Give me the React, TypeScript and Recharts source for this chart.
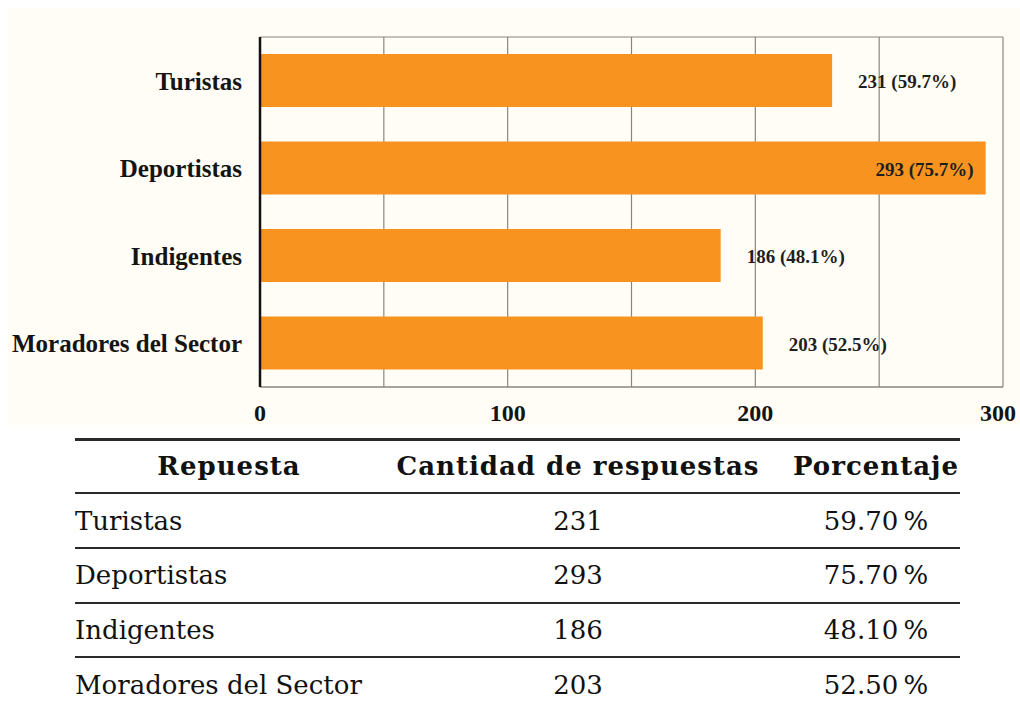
import React from 'react';
import { BarChart, Bar, XAxis, YAxis, CartesianGrid, LabelList } from 'recharts';

// Survey results: who uses the area
const categories = ['Turistas', 'Deportistas', 'Indigentes', 'Moradores del Sector'];
const counts = [231, 293, 186, 203];
const percents = [59.7, 75.7, 48.1, 52.5];
const xTicks = [0, 50, 100, 150, 200, 250, 300];
const tableHeaders = ['Repuesta', 'Cantidad de respuestas', 'Porcentaje'];

const data = categories.map((name, i) => ({ name, count: counts[i], pct: percents[i] }));

const CHART_W = 1012;
const CHART_H = 417;
const CHART_FONT = '"Liberation Serif", "Times New Roman", serif';
const TABLE_FONT = '"DejaVu Serif", serif';
const LABEL_SIZE = 19;
const LABEL_GAP = 26;
const TICK_SIZE = 24;

// Value label placed after the bar end; falls back to inside the bar when it would overflow.
const BarValueLabel = (props: any) => {
  const { x, y, width, height, index } = props;
  const text = `${counts[index]} (${percents[index].toFixed(1)}%)`;
  const approxW = text.length * LABEL_SIZE * 0.48;
  const end = Number(x) + Number(width);
  const fits = end + LABEL_GAP + approxW <= CHART_W;
  return (
    <text
      x={fits ? end + LABEL_GAP : end - 12}
      y={Number(y) + Number(height) / 2 + 1}
      textAnchor={fits ? 'start' : 'end'}
      dominantBaseline="central"
      fontFamily={CHART_FONT}
      fontWeight="bold"
      fontSize={LABEL_SIZE}
      fill="#1e1e1e"
    >
      {text}
    </text>
  );
};

// X tick that only shows the hundreds and keeps the text inside the chart box.
const XTick = (props: any) => {
  const { x, y, payload } = props;
  const v = payload?.value;
  if (v % 100 !== 0) return null;
  const label = String(v);
  const half = (label.length * TICK_SIZE * 0.5) / 2;
  const cx = Math.min(Number(x), CHART_W - half - 4);
  return (
    <text
      x={cx}
      y={Number(y) + 34}
      textAnchor="middle"
      fontFamily={CHART_FONT}
      fontWeight="bold"
      fontSize={TICK_SIZE}
      fill="#141414"
    >
      {label}
    </text>
  );
};

const ROW_CENTERS = [458, 513, 567, 622, 677];
const RULES = [
  { y: 430, h: 3 },
  { y: 484, h: 2 },
  { y: 539, h: 2 },
  { y: 594, h: 2 },
  { y: 648, h: 2 },
];

const cellStyle = (center: number, align: 'left' | 'center', x: number, w: number): React.CSSProperties => ({
  position: 'absolute',
  top: center - 18,
  height: 36,
  lineHeight: '36px',
  left: x,
  width: w,
  textAlign: align,
  whiteSpace: 'nowrap',
});

export default function App() {
  const rows = categories.map((c, i) => [c, String(counts[i]), `${percents[i].toFixed(2)}\u2009%`]);
  const headerStyle: React.CSSProperties = { fontWeight: 'bold', letterSpacing: 1 };
  return (
    <div
      style={{
        position: 'fixed',
        left: 8,
        top: 8,
        width: 1012,
        height: 698,
        overflow: 'hidden',
        background: '#ffffff',
      }}
    >
      <div style={{ position: 'absolute', left: 0, top: 0, width: CHART_W, height: CHART_H, background: '#fffdf5' }}>
        <BarChart
          width={CHART_W}
          height={CHART_H}
          data={data}
          layout="vertical"
          margin={{ top: 29, right: 17, bottom: 0, left: 0 }}
          barSize={53}
        >
          <CartesianGrid
            vertical
            horizontal
            stroke="#8a867e"
            strokeWidth={1.2}
            horizontalCoordinatesGenerator={(args: any) => [args.offset.top]}
          />
          <XAxis
            type="number"
            domain={[0, 300]}
            ticks={xTicks}
            interval={0}
            height={38}
            tickSize={0}
            tickMargin={0}
            tickLine={false}
            axisLine={{ stroke: '#8a867e', strokeWidth: 1.5 }}
            tick={<XTick />}
          />
          <YAxis
            type="category"
            dataKey="name"
            width={252}
            tickSize={0}
            tickMargin={18}
            tickLine={false}
            axisLine={{ stroke: '#111111', strokeWidth: 2.5 }}
            tick={{ fontFamily: CHART_FONT, fontWeight: 'bold', fontSize: 25, fill: '#141414' }}
          />
          <Bar dataKey="count" fill="#f7931e" isAnimationActive={false}>
            <LabelList dataKey="count" content={BarValueLabel} />
          </Bar>
        </BarChart>
      </div>

      <div style={{ position: 'absolute', left: 0, top: 0, width: 1012, height: 698, fontFamily: TABLE_FONT, fontSize: 26, color: '#111' }}>
        {RULES.map((r, i) => (
          <div key={`rule-${i}`} style={{ position: 'absolute', left: 67, width: 885, top: r.y, height: r.h, background: '#2a2a2a' }} />
        ))}
        <div style={{ ...cellStyle(ROW_CENTERS[0], 'center', 121, 200), ...headerStyle }}>{tableHeaders[0]}</div>
        <div style={{ ...cellStyle(ROW_CENTERS[0], 'center', 370, 400), ...headerStyle }}>{tableHeaders[1]}</div>
        <div style={{ ...cellStyle(ROW_CENTERS[0], 'center', 768, 200), ...headerStyle }}>{tableHeaders[2]}</div>
        {rows.map((row, i) => (
          <React.Fragment key={row[0]}>
            <div style={cellStyle(ROW_CENTERS[i + 1], 'left', 67, 300)}>{row[0]}</div>
            <div style={cellStyle(ROW_CENTERS[i + 1], 'center', 470, 200)}>{row[1]}</div>
            <div style={cellStyle(ROW_CENTERS[i + 1], 'center', 768, 200)}>{row[2]}</div>
          </React.Fragment>
        ))}
      </div>
    </div>
  );
}
